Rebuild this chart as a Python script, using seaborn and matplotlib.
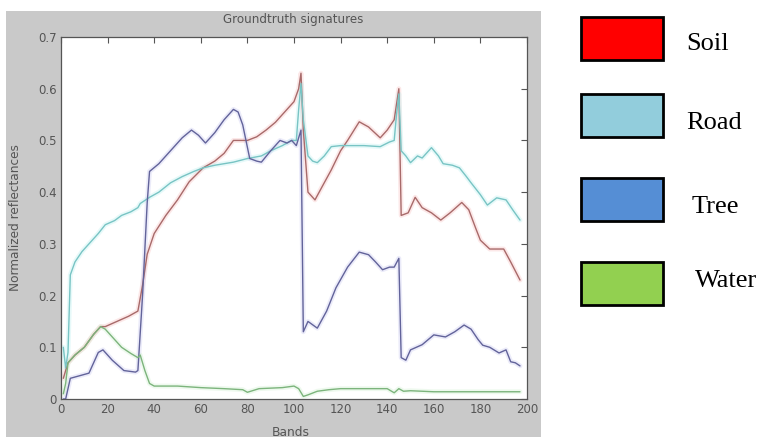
import matplotlib
matplotlib.use("Agg")
import matplotlib.pyplot as plt
from matplotlib.patches import Rectangle
import seaborn as sns
import pandas as pd

# ---------------- data ----------------
soil_bands = [1, 3, 6, 10, 14, 17, 19, 24, 29, 33, 35, 37, 40, 45, 50, 55, 61, 66, 70, 74, 80, 84, 88, 92, 97,
              100, 102, 103, 104, 106, 109, 112, 116, 120, 123, 128, 132, 137, 140, 143, 145, 146, 149, 152,
              155, 159, 163, 167, 172, 175, 178, 180, 184, 190, 193, 197]
soil_vals = [0.04, 0.07, 0.085, 0.10, 0.125, 0.14, 0.14, 0.15, 0.16, 0.17, 0.22, 0.28, 0.32, 0.355, 0.385,
             0.42, 0.447, 0.46, 0.475, 0.50, 0.50, 0.507, 0.52, 0.535, 0.56, 0.575, 0.60, 0.63, 0.52, 0.40,
             0.385, 0.41, 0.443, 0.48, 0.50, 0.536, 0.526, 0.505, 0.52, 0.54, 0.60, 0.355, 0.36, 0.39, 0.37,
             0.36, 0.346, 0.36, 0.38, 0.366, 0.33, 0.307, 0.29, 0.29, 0.265, 0.23]

road_bands = [1, 2, 3, 4, 6, 9, 12, 16, 19, 23, 26, 30, 33, 34, 38, 42, 47, 52, 57, 61, 66, 70, 74, 80, 86, 90,
              95, 99, 101, 102, 103, 104, 106, 108, 110, 113, 116, 120, 125, 130, 137, 141, 143, 144, 145, 146,
              148, 150, 153, 155, 159, 162, 164, 168, 171, 174, 176, 180, 183, 187, 191, 194, 197]
road_vals = [0.10, 0.06, 0.09, 0.24, 0.265, 0.285, 0.30, 0.32, 0.337, 0.345, 0.355, 0.362, 0.37, 0.378, 0.39,
             0.40, 0.418, 0.43, 0.44, 0.447, 0.452, 0.455, 0.458, 0.465, 0.47, 0.48, 0.49, 0.50, 0.50, 0.56,
             0.61, 0.54, 0.47, 0.46, 0.457, 0.47, 0.488, 0.49, 0.49, 0.49, 0.488, 0.497, 0.50, 0.55, 0.59,
             0.48, 0.47, 0.457, 0.47, 0.466, 0.486, 0.47, 0.455, 0.452, 0.447, 0.43, 0.418, 0.395, 0.375,
             0.389, 0.385, 0.365, 0.346]

tree_bands = [1, 2, 4, 8, 12, 16, 18, 22, 27, 32, 33, 35, 37, 38, 42, 47, 52, 56, 59, 62, 66, 70, 74, 76, 78,
              81, 84, 86, 90, 94, 97, 99, 101, 103, 104, 106, 110, 114, 118, 123, 128, 132, 135, 138, 141,
              143, 145, 146, 148, 150, 155, 160, 165, 169, 173, 176, 179, 181, 184, 188, 191, 193, 195, 197]
tree_vals = [0.0, 0.0, 0.04, 0.045, 0.05, 0.09, 0.095, 0.075, 0.055, 0.052, 0.055, 0.20, 0.38, 0.44, 0.455,
             0.48, 0.505, 0.52, 0.51, 0.495, 0.515, 0.54, 0.56, 0.555, 0.53, 0.465, 0.46, 0.458, 0.48, 0.50,
             0.495, 0.50, 0.49, 0.52, 0.13, 0.15, 0.137, 0.17, 0.215, 0.255, 0.284, 0.279, 0.265, 0.25,
             0.255, 0.255, 0.272, 0.08, 0.075, 0.095, 0.105, 0.124, 0.12, 0.13, 0.143, 0.135, 0.115, 0.104,
             0.10, 0.089, 0.095, 0.072, 0.07, 0.064]

water_bands = [1, 2, 3, 6, 10, 14, 17, 19, 22, 26, 30, 33, 34, 36, 38, 40, 50, 60, 70, 78, 80, 85, 95, 100,
               102, 104, 106, 110, 115, 120, 140, 143, 145, 147, 150, 160, 197]
water_vals = [0.01, 0.03, 0.07, 0.085, 0.10, 0.125, 0.14, 0.135, 0.12, 0.10, 0.088, 0.08, 0.085, 0.055, 0.03,
              0.025, 0.025, 0.022, 0.02, 0.018, 0.013, 0.02, 0.022, 0.025, 0.02, 0.005, 0.008, 0.015, 0.018,
              0.02, 0.02, 0.012, 0.02, 0.015, 0.016, 0.014, 0.014]

classes = ["Soil", "Road", "Tree", "Water"]
legend_colors = ["#ff0000", "#92cddc", "#558ed5", "#92d050"]
x_ticks = [0, 20, 40, 60, 80, 100, 120, 140, 160, 180, 200]
y_ticks = [0, 0.1, 0.2, 0.3, 0.4, 0.5, 0.6, 0.7]
y_ticklabels = ["0", "0.1", "0.2", "0.3", "0.4", "0.5", "0.6", "0.7"]

frames = []
for name, b, v in [("Soil", soil_bands, soil_vals), ("Road", road_bands, road_vals),
                   ("Tree", tree_bands, tree_vals), ("Water", water_bands, water_vals)]:
    frames.append(pd.DataFrame({"Band": b, "Value": v, "Class": name}))
df = pd.concat(frames, ignore_index=True)

# ---------------- figure ----------------
sns.set_theme(style="white")
plt.rcParams["font.family"] = ["DejaVu Sans"]

W, H = 765, 437
fig = plt.figure(figsize=(W / 100, H / 100), dpi=100)
fig.patch.set_facecolor("white")

def fx(px):
    return px / W

def fy(py):
    return 1 - py / H

# grey MATLAB-like figure background
fig.patches.append(Rectangle((fx(6), fy(437)), fx(541) - fx(6), fy(11) - fy(437),
                             transform=fig.transFigure, facecolor="#c9c9c9", edgecolor="none", zorder=-5))

ax = fig.add_axes([fx(61), fy(399), fx(527) - fx(61), fy(37) - fy(399)])
ax.set_zorder(1)
ax.set_facecolor("white")

halo = {"Soil": "#f6b4b4", "Road": "#b0eeee", "Tree": "#c0c0ee", "Water": "#c8ecc8"}
core = {"Soil": "#a86a6a", "Road": "#78c4c4", "Tree": "#62639a", "Water": "#7cb47c"}

sns.lineplot(data=df, x="Band", y="Value", hue="Class", units="Class", estimator=None,
             palette=halo, linewidth=3.5, alpha=0.3, legend=False, ax=ax, sort=False)
sns.lineplot(data=df, x="Band", y="Value", hue="Class", units="Class", estimator=None,
             palette=core, linewidth=1.0, legend=False, ax=ax, sort=False)

ax.set_xlim(0, 200)
ax.set_ylim(0, 0.7)
ax.set_xticks(x_ticks)
ax.set_yticks(y_ticks)
ax.set_yticklabels(y_ticklabels)
ax.tick_params(direction="in", top=True, right=True, length=4, width=0.8,
               colors="#555555", labelsize=8.5, pad=3)
for s in ax.spines.values():
    s.set_color("#555555")
    s.set_linewidth(0.9)
ax.set_xlabel("")
ax.set_ylabel("")

fig.text(fx(293), fy(20), "Groundtruth signatures", ha="center", va="center", fontsize=8.6, color="#555555")
fig.text(fx(291), fy(432), "Bands", ha="center", va="center", fontsize=8.8, color="#555555")
fig.text(fx(16), fy(218), "Normalized reflectances", ha="center", va="center", rotation=90,
         fontsize=8.7, color="#555555")

# legend boxes on the right
boxes = [(17, 60), (94, 137), (178, 221), (262, 305)]
text_pos = [(686, 50), (686, 129), (692, 213), (695, 287)]
for name, col, (t, b), (tx, ty) in zip(classes, legend_colors, boxes, text_pos):
    fig.patches.append(Rectangle((fx(581), fy(b)), fx(663) - fx(581), fy(t) - fy(b),
                                 transform=fig.transFigure, facecolor=col, edgecolor="black",
                                 linewidth=2.0, zorder=2))
    fig.text(fx(tx), fy(ty), name, ha="left", va="baseline", fontsize=19,
             family=["Liberation Serif", "DejaVu Serif"], color="black")

fig.savefig("out.png", dpi=100, facecolor="white")
